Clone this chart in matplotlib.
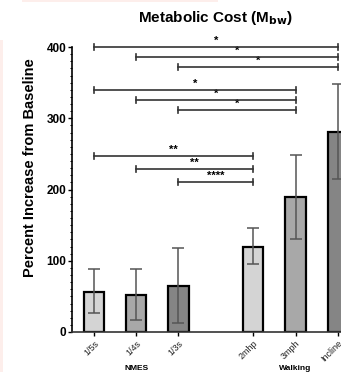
import matplotlib
matplotlib.use("Agg")
import matplotlib.pyplot as plt
from matplotlib.patches import Rectangle
import numpy as np

plt.rcParams['font.family'] = ['Liberation Sans', 'DejaVu Sans']

categories = ["1/5s", "1/4s", "1/3s", "2mhp", "3mph", "Incline"]
positions = [0, 1, 2, 3.77, 4.77, 5.77]
means = [56, 52, 64, 120, 189, 281]
err_low = [27, 17, 12, 95, 130, 215]
err_high = [88, 89, 118, 146, 249, 348]
colors = ["#d4d4d4", "#a8a8a8", "#858585", "#d4d4d4", "#a8a8a8", "#858585"]
groups = ["NMES", "Walking"]

# significance brackets: (from index, to index, y, label)
sig_from = [0, 1, 2, 0, 1, 2, 0, 1, 2]
sig_to = [5, 5, 5, 4, 4, 4, 3, 3, 3]
sig_y = [400, 386, 372, 340, 326, 312, 247, 229, 211]
sig_label = ["*", "*", "*", "*", "*", "*", "**", "**", "****"]

W, H = 341, 372
fig = plt.figure(figsize=(W / 100, H / 100), dpi=100)

# faint pink artifacts
fig.add_artist(Rectangle((22 / W, 1 - 2 / H), 196 / W, 2 / H, transform=fig.transFigure,
                         color="#fdeeeb", lw=0))
fig.add_artist(Rectangle((0, 0), 2.5 / W, 1 - 40 / H, transform=fig.transFigure,
                         color="#fdeeeb", lw=0))

px_per_unit = 42.25
xl, xr = -0.52, 6.6
left = 72 / W
width = (xr - xl) * px_per_unit / W
bottom = (H - 332) / H
top = (H - 47) / H
ax = fig.add_axes([left, bottom, width, top - bottom])

ax.bar(positions, means, width=0.48, color=colors, edgecolor="black", linewidth=1.6, zorder=2)
for x, m, lo, hi in zip(positions, means, err_low, err_high):
    ax.errorbar([x], [m], yerr=[[m - lo], [hi - m]], fmt="none", ecolor="#555555",
                elinewidth=1.1, capsize=4.5, capthick=1.1, zorder=3)

ax.set_xlim(xl, xr)
ax.set_ylim(0, 400)
ax.set_yticks([0, 100, 200, 300, 400])
ax.set_yticks(np.arange(0, 401, 10), minor=True)
ax.tick_params(axis="y", which="major", length=3, width=1, labelsize=8.5, pad=1)
ax.tick_params(axis="y", which="minor", length=1.5, width=0.7)
for lab in ax.get_yticklabels():
    lab.set_fontweight("bold")
ax.set_xticks(positions)
ax.set_xticklabels(categories, rotation=45, ha="right", rotation_mode="anchor",
                   fontsize=6.5, color="#222222")
ax.tick_params(axis="x", length=3, width=1, pad=2)
for s in ["top", "right"]:
    ax.spines[s].set_visible(False)
ax.spines["left"].set_linewidth(1.2)
ax.spines["bottom"].set_linewidth(1.2)
ax.spines["bottom"].set_color("#333333")

fig.text(30 / W, 1 - 168 / H, "Percent Increase from Baseline", rotation=90,
         ha="center", va="center", fontsize=10.5, fontweight="bold")

# significance brackets
for a, b, y, lab in zip(sig_from, sig_to, sig_y, sig_label):
    x1, x2 = positions[a], positions[b]
    ax.plot([x1, x2], [y, y], color="#333333", lw=1.2, clip_on=False, zorder=4)
    for xx in (x1, x2):
        ax.plot([xx, xx], [y - 4, y + 4], color="#333333", lw=1.2, clip_on=False, zorder=4)
    ax.text((x1 + x2) / 2, y + 1, lab, ha="center", va="bottom", fontsize=8,
            fontweight="bold", clip_on=False)

# group labels
ax.text(1, -0.115, groups[0], transform=ax.get_xaxis_transform(), ha="center", va="top",
        fontsize=6, fontweight="bold")
ax.text(4.77, -0.115, groups[1], transform=ax.get_xaxis_transform(), ha="center", va="top",
        fontsize=6, fontweight="bold")

fig.text(215 / W, 1 - 18 / H, "Metabolic Cost (M$_{\\mathbf{bw}}$)", ha="center", va="center",
         fontsize=11, fontweight="bold")

fig.savefig("out.png", dpi=100)
